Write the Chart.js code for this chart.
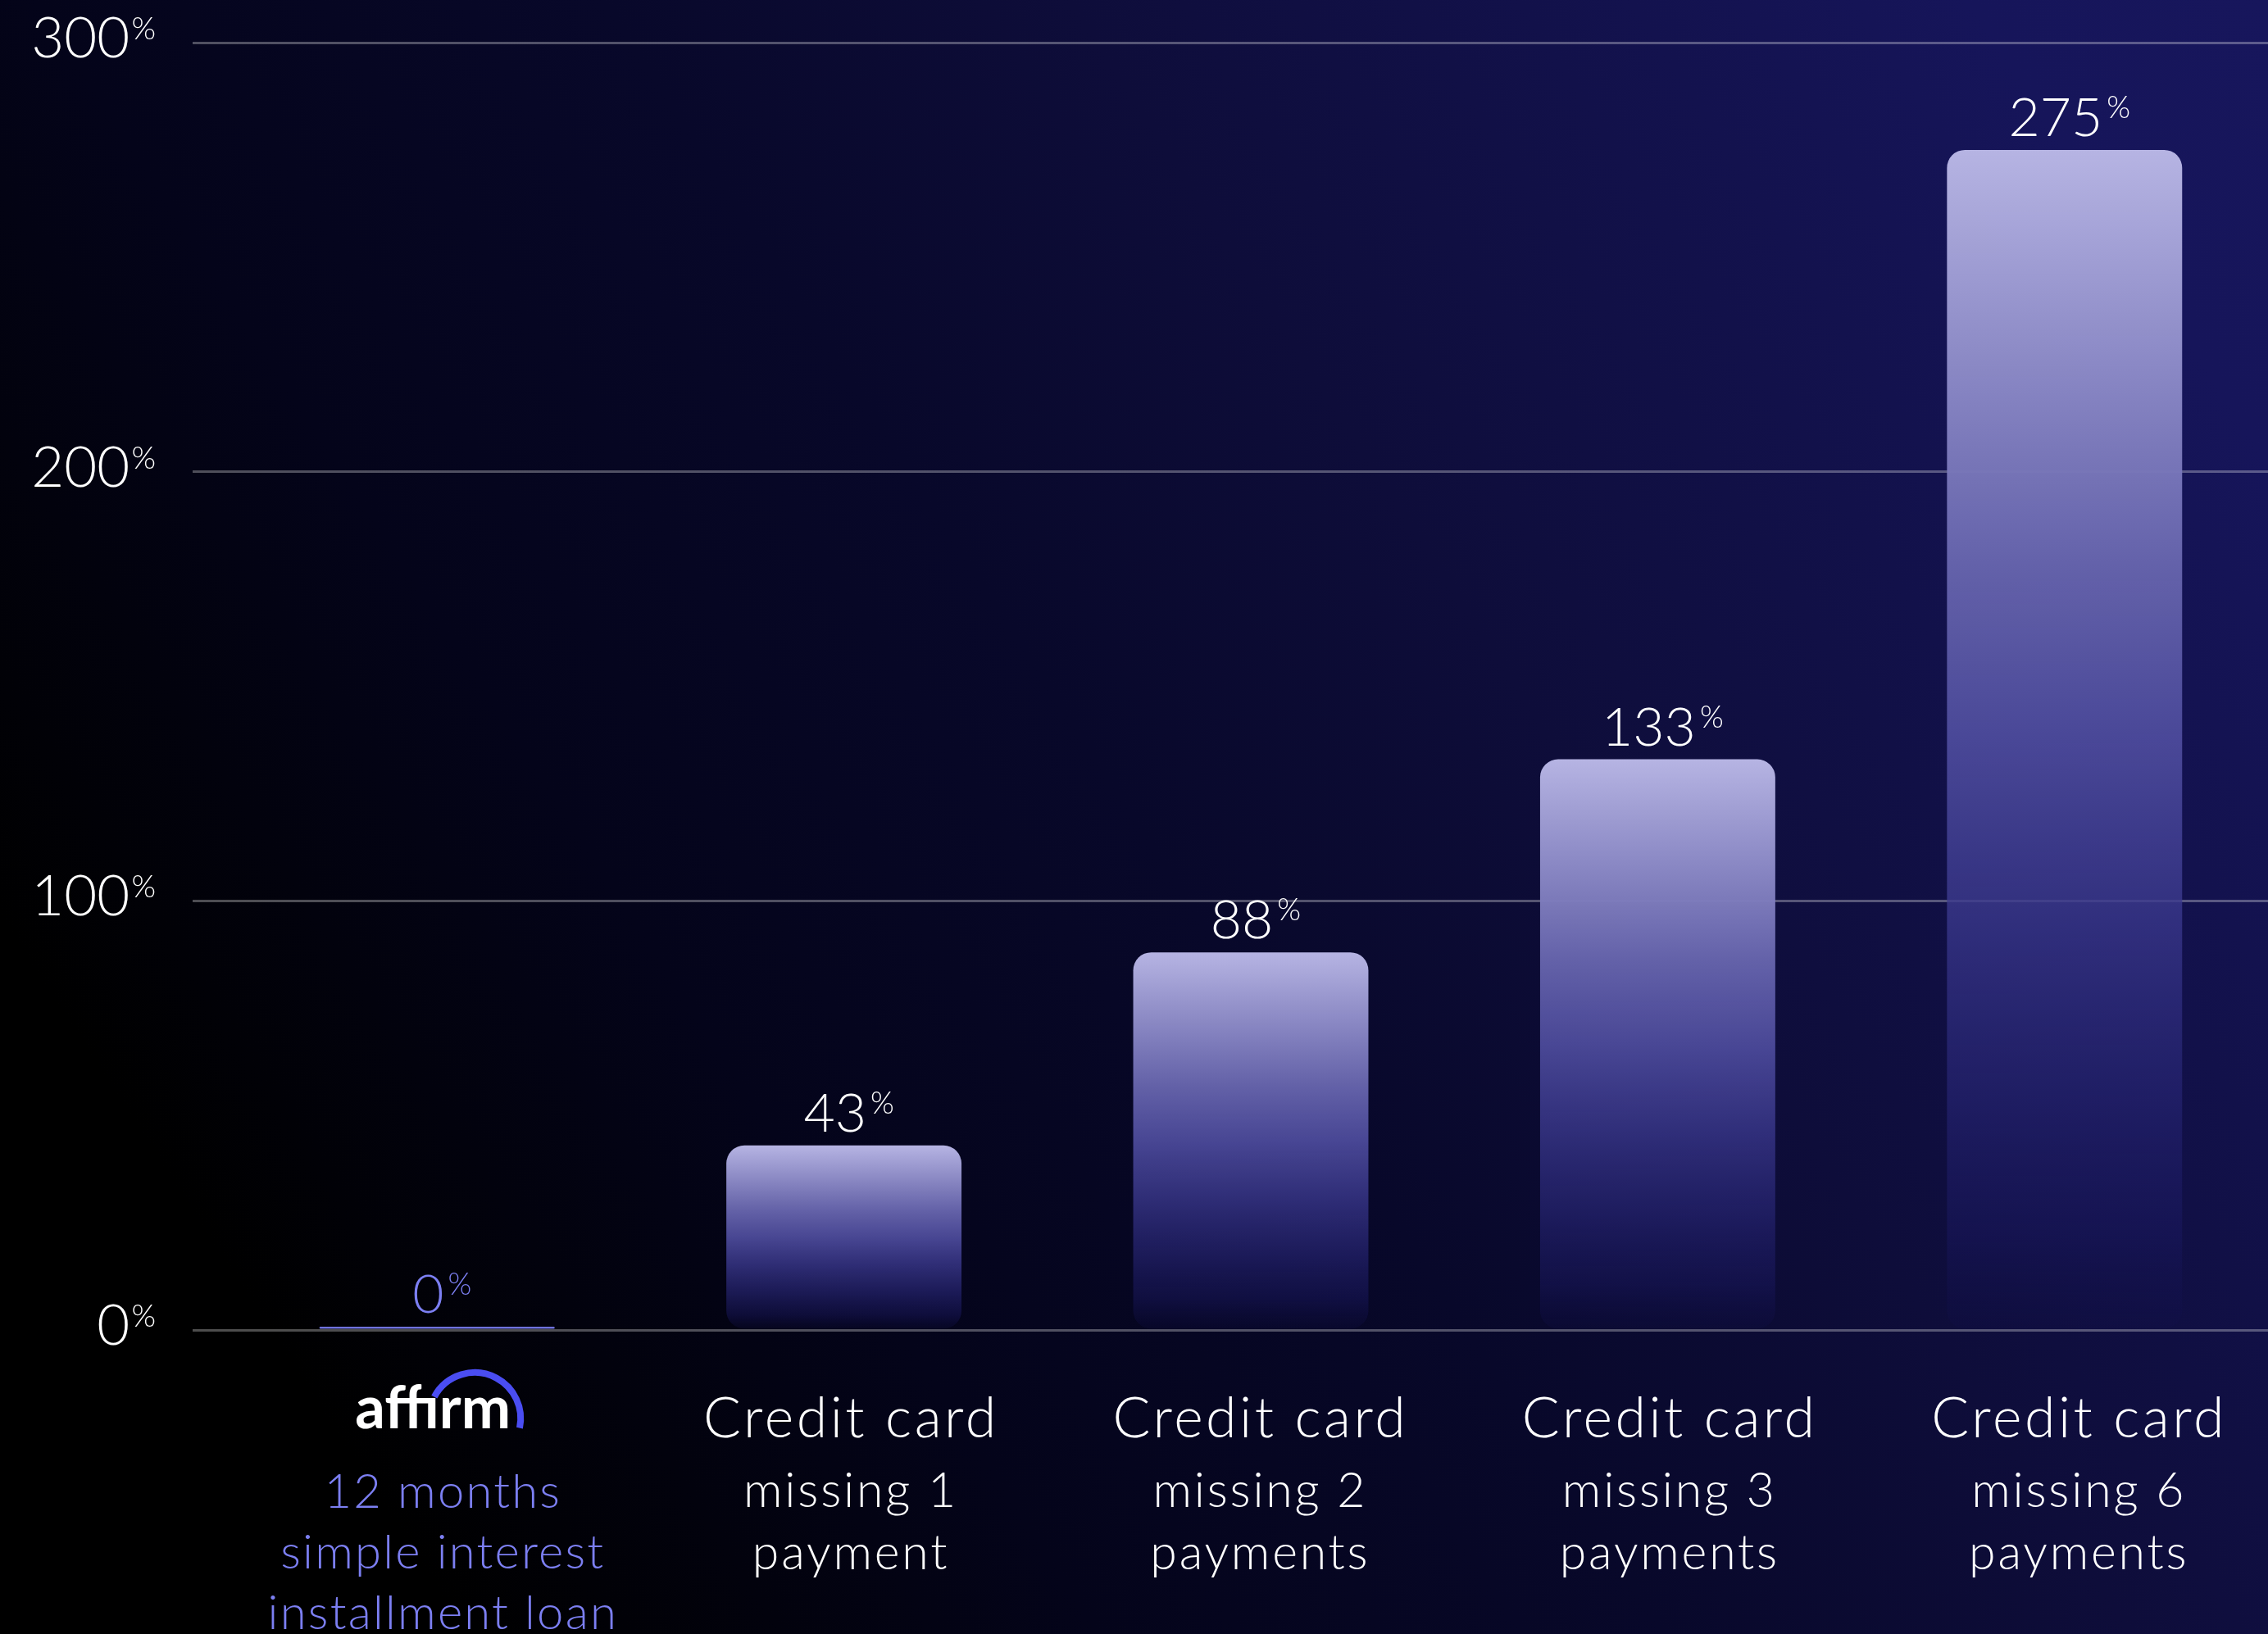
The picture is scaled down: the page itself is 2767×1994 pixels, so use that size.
<!DOCTYPE html>
<html>
<head>
<meta charset="utf-8">
<script src="https://cdn.jsdelivr.net/npm/chart.js@4.4.1/dist/chart.umd.min.js"></script>
<style>
  html, body { margin: 0; padding: 0; width: 2767px; height: 1994px; overflow: hidden; }
  body { background: linear-gradient(57deg, #000 0%, #000 14%, #04041a 33%, #08082a 50%, #0e0d3a 64%, #16155a 91%, #17165c 100%); }
  #wrap { position: relative; width: 2767px; height: 1994px; }
</style>
</head>
<body>
<div id="wrap"><canvas id="rateChart"></canvas></div>
<script>
// data
const categories = ['affirm', 'Credit card', 'Credit card', 'Credit card', 'Credit card'];
const subLabels = [
  ['12 months', 'simple interest', 'installment loan'],
  ['missing 1', 'payment'],
  ['missing 2', 'payments'],
  ['missing 3', 'payments'],
  ['missing 6', 'payments']
];
const increases = [0, 43, 88, 133, 275];
const yTicks = [0, 100, 200, 300];

const FONT = '"Lato", "Open Sans", sans-serif';
const PURPLE = '#7c7ff2';

// gradient for the bars, stretched over each bar's own height
function barFill(c) {
  const chart = c.chart;
  if (!chart.chartArea || c.dataIndex === undefined) return '#8886c8';
  if (c.dataIndex === 0) return '#6f72dc';
  const y = chart.scales.y;
  const top = y.getPixelForValue(increases[c.dataIndex]);
  const bottom = y.getPixelForValue(0);
  const g = chart.ctx.createLinearGradient(0, top, 0, bottom);
  g.addColorStop(0, 'rgba(182,180,227,1)');
  g.addColorStop(0.35, 'rgba(104,102,174,0.96)');
  g.addColorStop(0.5, 'rgba(80,78,160,0.9)');
  g.addColorStop(0.65, 'rgba(58,56,140,0.8)');
  g.addColorStop(0.8, 'rgba(40,38,118,0.65)');
  g.addColorStop(0.92, 'rgba(28,26,100,0.45)');
  g.addColorStop(1, 'rgba(20,18,80,0.15)');
  return g;
}

// number with a small raised percent sign
function pctLabel(ctx, num, x, base, o) {
  ctx.letterSpacing = '0px';
  ctx.font = '300 ' + o.size + 'px ' + FONT;
  const nw = ctx.measureText(num).width;
  ctx.font = '300 ' + o.pSize + 'px ' + FONT;
  const pw = ctx.measureText('%').width;
  const total = nw + o.gap + pw;
  const left = o.align === 'right' ? x - total : x - total / 2;
  ctx.fillStyle = o.color;
  ctx.textAlign = 'left';
  ctx.textBaseline = 'alphabetic';
  ctx.font = '300 ' + o.size + 'px ' + FONT;
  ctx.fillText(num, left, base);
  ctx.font = '300 ' + o.pSize + 'px ' + FONT;
  ctx.fillText('%', left + nw + o.gap, base - o.raise);
}

function spaced(ctx, text, x, y, sp) {
  ctx.letterSpacing = sp + 'px';
  ctx.textAlign = 'center';
  ctx.fillText(text, x + sp / 2, y);
  ctx.letterSpacing = '0px';
}

function drawLogo(ctx, cx, base) {
  ctx.letterSpacing = '0px';
  ctx.font = 'bold 62px ' + FONT;
  const w = ctx.measureText('aff\u0131rm').width;
  const size = 62 * 190 / w;
  ctx.font = 'bold ' + size + 'px ' + FONT;
  ctx.fillStyle = '#ffffff';
  ctx.textAlign = 'left';
  ctx.fillText('aff\u0131rm', cx - 100, base);
  ctx.strokeStyle = '#4a4df2';
  ctx.lineWidth = 8;
  ctx.beginPath();
  ctx.arc(cx + 46, base - 12, 56, -2.65, 0.21);
  ctx.stroke();
}

const labelPlugin = {
  id: 'labelPlugin',
  afterDraw(chart) {
    const ctx = chart.ctx;
    const xs = chart.scales.x, ys = chart.scales.y;
    const bottom = chart.chartArea.bottom;
    ctx.save();

    // y axis labels
    ys.ticks.forEach(t => {
      const py = ys.getPixelForValue(t.value);
      pctLabel(ctx, String(t.value), 190, py + 18, { size: 69, pSize: 38, gap: 2, raise: 22, color: '#ffffff', align: 'right' });
    });

    // values over the bars
    chart.getDatasetMeta(0).data.forEach((bar, i) => {
      const top = Math.min(bar.y, bar.base);
      pctLabel(ctx, String(increases[i]), bar.x + 6, top - 17, { size: 66, pSize: 37, gap: 5, raise: 22, color: i === 0 ? PURPLE : '#ffffff', align: 'center' });
    });

    // category labels
    categories.forEach((c, i) => {
      const cx = xs.getPixelForValue(i);
      if (i === 0) {
        drawLogo(ctx, cx, bottom + 120);
        ctx.fillStyle = PURPLE;
        ctx.font = '300 58px ' + FONT;
        subLabels[i].forEach((s, k) => spaced(ctx, s, cx + 6, bottom + 217 + k * 74, 2.2));
      } else {
        ctx.fillStyle = '#ffffff';
        ctx.font = '300 68px ' + FONT;
        spaced(ctx, c, cx + 4 + i * 3, bottom + 131, 3.5);
        ctx.font = '300 59px ' + FONT;
        subLabels[i].forEach((s, k) => spaced(ctx, s, cx + 4 + i * 3, bottom + 216 + k * 76, 2.8));
      }
    });
    ctx.restore();
  }
};

const ctx = document.getElementById('rateChart').getContext('2d');
const rateChart = new Chart(ctx, {
  type: 'bar',
  data: {
    labels: categories.map((c, i) => [c].concat(subLabels[i])),
    datasets: [{
      data: increases,
      backgroundColor: barFill,
      borderRadius: c => c.dataIndex === 0 ? 2 : 22,
      borderSkipped: false,
      minBarLength: 4,
      barPercentage: 0.578,
      categoryPercentage: 1
    }]
  },
  options: {
    responsive: true,
    maintainAspectRatio: false,
    animation: false,
    devicePixelRatio: 1,
    layout: { padding: { top: 52, right: 0, bottom: 0, left: 0 } },
    plugins: { legend: { display: false }, tooltip: { enabled: false } },
    scales: {
      x: {
        grid: { display: false },
        border: { display: false },
        ticks: { display: false },
        afterFit: s => { s.height = 371; }
      },
      y: {
        min: 0,
        max: 300,
        afterBuildTicks: s => { s.ticks = yTicks.map(v => ({ value: v })); },
        grid: { color: 'rgba(255,255,255,0.3)', lineWidth: 3, drawTicks: true, tickLength: 50 },
        border: { display: false },
        ticks: { display: false },
        afterFit: s => { s.width = 285; }
      }
    }
  },
  plugins: [labelPlugin]
});
</script>
</body>
</html>
